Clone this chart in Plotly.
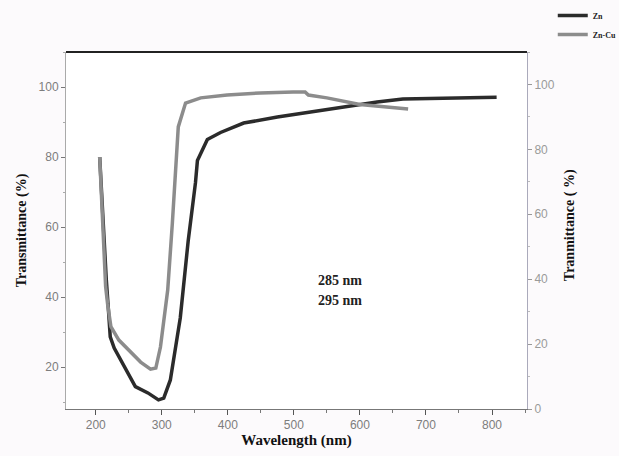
import plotly.graph_objects as go

# Transmittance spectra (wavelength in nm, transmittance in %)
zn_wl = [206, 212, 216, 219, 222, 228, 243, 260, 279, 295, 303, 313, 328, 340,
         351, 354, 359, 369, 389, 424, 475, 525, 575, 626, 665, 726, 807]
zn_t = [80, 56, 45, 37, 28.6, 25.4, 20, 14.4, 12.6, 10.6, 11.1, 16.3, 34, 56,
        72.6, 79, 81, 85, 87, 89.7, 91.4, 92.9, 94.3, 95.7, 96.6, 96.9, 97.1]

zncu_wl = [206, 212, 215, 218, 223, 235, 253, 268, 283, 291, 298, 309, 316, 321,
           325, 336, 359, 399, 449, 499, 517, 522, 550, 600, 650, 673]
zncu_t = [80, 56, 43, 38, 31.5, 27.7, 24.4, 21.4, 19.4, 19.7, 25.7, 42, 61, 77,
          88.6, 95.4, 96.9, 97.7, 98.3, 98.6, 98.6, 97.7, 96.9, 95, 94, 93.7]

x_ticks = [200, 300, 400, 500, 600, 700, 800]
left_ticks = [20, 40, 60, 80, 100]
right_ticks = [0, 20, 40, 60, 80, 100]

tick_font = dict(family="Liberation Sans, Arial", size=12, color="#7d7d7d")
serif = "Liberation Serif, Times New Roman"

fig = go.Figure()
fig.add_trace(go.Scatter(x=zn_wl, y=zn_t, name="Zn", mode="lines",
                         line=dict(color="#2b2b2b", width=3.5)))
fig.add_trace(go.Scatter(x=zncu_wl, y=zncu_t, name="Zn-Cu", mode="lines",
                         line=dict(color="#8c8c8c", width=3.5)))
# empty series so the secondary (right) axis is rendered
fig.add_trace(go.Scatter(x=[], y=[], yaxis="y2", showlegend=False, hoverinfo="skip"))

fig.update_layout(
    width=619, height=456,
    margin=dict(l=66, r=92, t=52, b=47, autoexpand=False),
    paper_bgcolor="#fcfafc", plot_bgcolor="#ffffff",
    showlegend=True,
    legend=dict(xref="container", yref="container", x=0.893, y=0.998,
                xanchor="left", yanchor="top",
                font=dict(family=serif, size=8, color="#222", weight="bold"),
                bgcolor="rgba(0,0,0,0)", itemwidth=30, tracegroupgap=0),
    xaxis=dict(range=[155, 853], tickvals=x_ticks, ticks="outside", ticklen=5,
               tickcolor="#555", showline=True, linecolor="#777", linewidth=1,
               showgrid=False, zeroline=False, tickfont=tick_font,
               minor=dict(dtick=50, tick0=150, ticks="outside", ticklen=3, tickcolor="#777"),
               title=dict(text="<b>Wavelength (nm)</b>",
                          font=dict(family=serif, size=15, color="#111"), standoff=3)),
    yaxis=dict(range=[8, 110], tickvals=left_ticks, ticks="outside", ticklen=4,
               tickcolor="#777", showline=True, linecolor="#aaa", linewidth=1,
               showgrid=False, zeroline=False, tickfont=tick_font,
               minor=dict(dtick=10, tick0=0, ticks="outside", ticklen=2, tickcolor="#aaa"),
               title=dict(text="<b>Transmittance (%)</b>",
                          font=dict(family=serif, size=14, color="#111"), standoff=8)),
    yaxis2=dict(range=[0, 110], overlaying="y", side="right", anchor="x",
                tickvals=right_ticks, ticks="outside", ticklen=4, tickcolor="#999",
                showline=True, linecolor="#aab", linewidth=1, showgrid=False,
                zeroline=False,
                tickfont=dict(family="Liberation Sans, Arial", size=12, color="#9a9a9a"),
                minor=dict(dtick=10, tick0=0, ticks="outside", ticklen=2, tickcolor="#bbb")),
    shapes=[dict(type="line", xref="paper", yref="paper", x0=0, x1=1, y0=1, y1=1,
                 line=dict(color="#222", width=2))],
)

# right-hand axis title
fig.add_annotation(text="<b>Tranmittance ( %)</b>", x=1.115, y=0.515, xref="paper",
                   yref="paper", textangle=-90, showarrow=False,
                   font=dict(family=serif, size=14, color="#111"))

label_font = dict(family=serif, size=14, color="#222")
fig.add_annotation(text="<b>285 nm</b>", x=570, y=44.6, xref="x", yref="y",
                   showarrow=False, font=label_font)
fig.add_annotation(text="<b>295 nm</b>", x=570, y=39.1, xref="x", yref="y",
                   showarrow=False, font=label_font)

fig.write_html("out.html")
